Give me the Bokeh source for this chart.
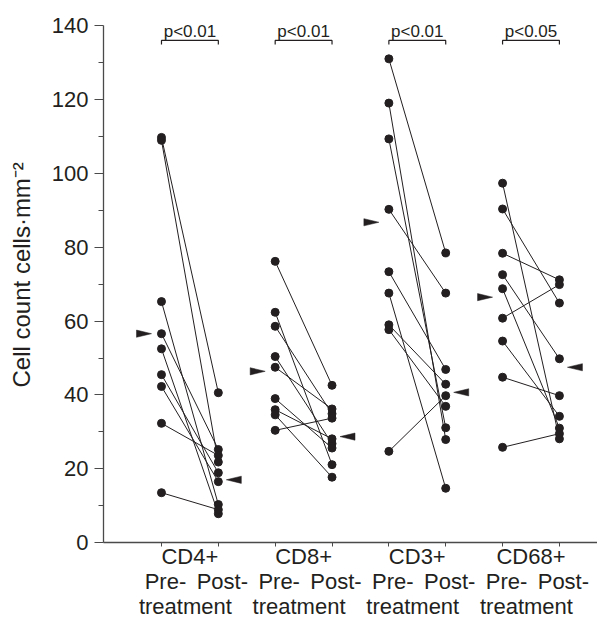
import numpy as np
from bokeh.plotting import figure
from bokeh.models import Range1d, FixedTicker, Label, LinearAxis
from bokeh.core.properties import value
from bokeh.embed import file_html
from bokeh.resources import INLINE

# ---- data ----
groups = ["CD4+", "CD8+", "CD3+", "CD68+"]
phases = ["Pre-", "Post-"]
sub_label = "treatment"
p_labels = ["p<0.01", "p<0.01", "p<0.01", "p<0.05"]
cd4_pre = [109.8, 109.0, 65.3, 56.6, 52.5, 45.5, 42.3, 32.3, 13.5]
cd4_post = [40.6, 21.8, 10.3, 25.2, 7.8, 18.9, 16.5, 23.6, 8.9]
cd8_pre = [76.2, 62.4, 58.6, 50.4, 47.5, 39.0, 36.0, 34.6, 30.4]
cd8_post = [42.6, 21.1, 34.9, 26.8, 36.2, 25.6, 28.1, 17.7, 33.7]
cd3_pre = [131.1, 119.1, 109.4, 90.3, 73.4, 67.6, 59.0, 57.7, 24.7]
cd3_post = [78.5, 27.9, 31.1, 67.6, 46.9, 14.7, 42.9, 36.9, 39.8]
cd68_pre = [97.4, 90.4, 78.4, 72.6, 68.8, 60.8, 54.6, 44.8, 25.8]
cd68_post = [28.1, 64.9, 71.2, 49.8, 31.0, 69.9, 34.2, 39.8, 29.5]
mean_pre = [56.6, 46.4, 86.8, 66.5]
mean_post = [17.0, 28.7, 40.7, 47.5]
y_ticks = [0, 20, 40, 60, 80, 100, 120, 140]
y_label = "Cell count  cells\u00b7mm\u207b\u00b2"

pre_sets = [cd4_pre, cd8_pre, cd3_pre, cd68_pre]
post_sets = [cd4_post, cd8_post, cd3_post, cd68_post]

# ---- styling ----
INK = "#231f20"
AXIS = "#4a4a4a"
FONT = "Liberation Sans"
FS = "22px"
px_x = 56.86   # pixels per x unit
px_y = 3.689   # pixels per y unit

p = figure(width=597, height=622,
           x_range=Range1d(-0.02, 8.67), y_range=Range1d(0, 146.91),
           output_backend="svg", toolbar_location=None,
           min_border_left=103, min_border_right=0,
           min_border_top=0, min_border_bottom=80)
p.outline_line_color = None
p.xgrid.visible = False
p.ygrid.visible = False

# y axis
minor = [(a + b) / 2 for a, b in zip(y_ticks[:-1], y_ticks[1:])]
p.yaxis.ticker = FixedTicker(ticks=y_ticks, minor_ticks=minor)
p.yaxis.bounds = (y_ticks[0], y_ticks[-1])
p.yaxis.axis_line_color = AXIS
p.yaxis.axis_line_width = 1.3
p.yaxis.major_tick_line_color = AXIS
p.yaxis.minor_tick_line_color = AXIS
p.yaxis.major_tick_out = 9
p.yaxis.major_tick_in = 0
p.yaxis.minor_tick_out = 5
p.yaxis.minor_tick_in = 0
p.yaxis.major_label_text_font = FONT
p.yaxis.major_label_text_font_size = FS
p.yaxis.major_label_text_color = INK
p.yaxis.major_label_standoff = 6
p.yaxis.axis_label = y_label
p.yaxis.axis_label_text_font = FONT
p.yaxis.axis_label_text_font_size = "24px"
p.yaxis.axis_label_text_font_style = "normal"
p.yaxis.axis_label_text_color = INK
p.yaxis.axis_label_standoff = 14

# x positions
n_g = len(groups)
x_pre = [2 * gi + 1 for gi in range(n_g)]
x_post = [2 * gi + 2 for gi in range(n_g)]
x_all = sorted(x_pre + x_post)
mids = [(a + b) / 2 for a, b in zip(x_pre, x_post)]

# x axis 1: tick marks at every column (as minor ticks), group names at pair centres
xa = p.xaxis[0]
xa.ticker = FixedTicker(ticks=mids, minor_ticks=x_all)
xa.major_label_overrides = {m: g for m, g in zip(mids, groups)}
xa.axis_line_color = AXIS
xa.axis_line_width = 1.3
xa.major_tick_line_color = None
xa.major_tick_out = 0
xa.major_tick_in = 0
xa.minor_tick_line_color = AXIS
xa.minor_tick_out = 4
xa.minor_tick_in = 0
xa.major_label_standoff = -3
xa.major_label_text_font = FONT
xa.major_label_text_font_size = FS
xa.major_label_text_color = INK

# x axis 2: Pre- / Post-
ph_pos = []
ph_txt = {}
for a, b in zip(x_pre, x_post):
    for xx, t in zip((a, b), phases):
        k = round(xx + 0.07, 2)
        ph_pos.append(k)
        ph_txt[k] = t
# x axis 3: treatment
tr_pos = [round(m - 0.08, 2) for m in mids]
tr_txt = {k: sub_label for k in tr_pos}

for ticks, txt in ((ph_pos, ph_txt), (tr_pos, tr_txt)):
    ax = LinearAxis(ticker=FixedTicker(ticks=ticks, minor_ticks=[]),
                    major_label_overrides=txt,
                    axis_line_color=None, major_tick_line_color=None,
                    minor_tick_line_color=None,
                    major_tick_out=0, major_tick_in=0,
                    major_label_standoff=-3,
                    major_label_text_font=FONT,
                    major_label_text_font_size=FS,
                    major_label_text_color=INK)
    p.add_layout(ax, "below")

bracket_y = 136.1
tick_len = 1.1
ah_len = 15 / px_x
ah_half = 3.6 / px_y

for gi, g in enumerate(groups):
    xpre = x_pre[gi]
    xpost = x_post[gi]
    pre = pre_sets[gi]
    post = post_sets[gi]
    n = len(pre)
    p.segment(x0=[xpre] * n, y0=pre, x1=[xpost] * n, y1=post,
              line_color=INK, line_width=1)
    p.scatter(x=[xpre] * n, y=pre, size=8, marker="circle",
              fill_color=INK, line_color=INK)
    p.scatter(x=[xpost] * n, y=post, size=8, marker="circle",
              fill_color=INK, line_color=INK)

    # mean arrowheads
    tip_pre = xpre - 10 / px_x
    mp = mean_pre[gi]
    tip_post = xpost + 8 / px_x
    mq = mean_post[gi]
    p.patches(xs=[[tip_pre, tip_pre - ah_len, tip_pre - ah_len],
                  [tip_post, tip_post + ah_len, tip_post + ah_len]],
              ys=[[mp, mp + ah_half, mp - ah_half],
                  [mq, mq + ah_half, mq - ah_half]],
              fill_color=INK, line_color=INK, line_width=0.5)

    # significance bracket
    p.line(x=[xpre, xpre, xpost, xpost],
           y=[bracket_y - tick_len, bracket_y, bracket_y, bracket_y - tick_len],
           line_color=INK, line_width=1.2)
    p.add_layout(Label(x=(xpre + xpost) / 2, y=bracket_y + 2.4, text=p_labels[gi],
                       text_align="center", text_baseline="alphabetic",
                       text_font=FONT, text_font_size="17px", text_color=INK))

open("out.html", "w").write(file_html(p, INLINE))
